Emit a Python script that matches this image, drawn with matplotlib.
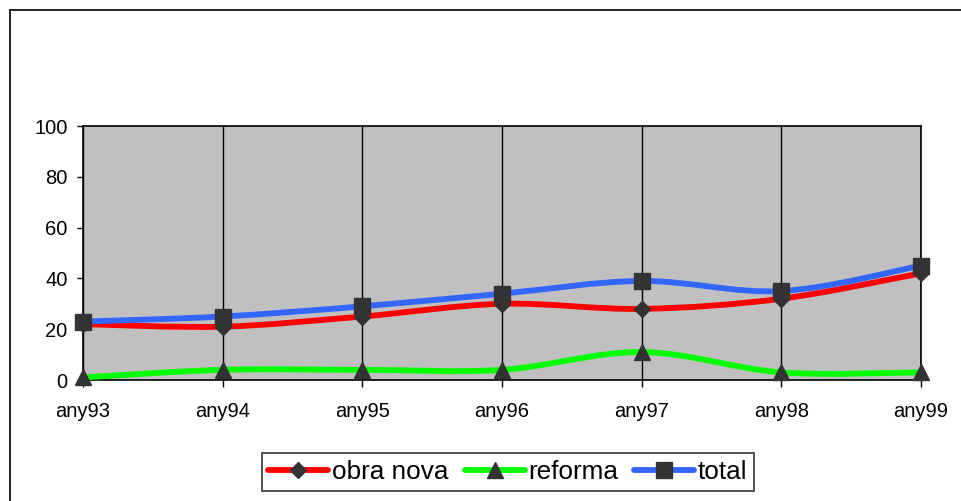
import matplotlib
matplotlib.use("Agg")
import matplotlib.pyplot as plt
from matplotlib.path import Path
from matplotlib.patches import PathPatch
from matplotlib.lines import Line2D
import numpy as np

categories = ["any93", "any94", "any95", "any96", "any97", "any98", "any99"]
obra_nova = [22, 21, 25, 30, 28, 32, 42]
reforma = [1, 4, 4, 4, 11, 3, 3]
total = [23, 25, 29, 34, 39, 35, 45]
y_ticks = [0, 20, 40, 60, 80, 100]

plt.rcParams['font.family'] = ['Liberation Sans', 'DejaVu Sans']

W, H = 961, 501
fig = plt.figure(figsize=(W / 100, H / 100), dpi=100)
fig.patch.set_facecolor("white")
ax = fig.add_axes([83 / W, 1 - 380 / H, (921 - 83) / W, (380 - 126) / H])
ax.set_facecolor("#C0C0C0")

x = np.arange(len(categories))


def smooth_path(xs, ys):
    pts = np.column_stack([xs, ys]).astype(float)
    n = len(pts)
    verts = [pts[0]]
    codes = [Path.MOVETO]
    for i in range(n - 1):
        p0 = pts[i - 1] if i > 0 else pts[i]
        p1 = pts[i]
        p2 = pts[i + 1]
        p3 = pts[i + 2] if i + 2 < n else pts[i + 1]
        c1 = p1 + (p2 - p0) / 6.0
        c2 = p2 - (p3 - p1) / 6.0
        verts += [c1, c2, p2]
        codes += [Path.CURVE4] * 3
    return Path(verts, codes)


series = [
    ("obra nova", obra_nova, "#FF0000", "D", 8),
    ("reforma", reforma, "#00FF00", "^", 11),
    ("total", total, "#3366FF", "s", 12),
]

handles = []
for z, (name, vals, col, mk, ms) in enumerate(series):
    patch = PathPatch(smooth_path(x, vals), facecolor="none", edgecolor=col,
                      lw=4.2, zorder=3 + z * 2, capstyle="round", joinstyle="round")
    ax.add_patch(patch)
    ax.plot(x, vals, linestyle="none", marker=mk, markersize=ms,
            color="#333333", zorder=4 + z * 2, clip_on=False)
    handles.append(Line2D([0], [0], color=col, lw=4.2, marker=mk,
                          markersize=ms, markerfacecolor="#333333",
                          markeredgecolor="#333333", solid_capstyle="round"))

ax.set_xlim(0, len(categories) - 1)
ax.set_ylim(0, 100)
ax.set_xticks(x)
ax.set_xticklabels(categories)
ax.set_yticks(y_ticks)
ax.xaxis.grid(True, color="black", lw=1)
ax.set_axisbelow(True)
for s in ax.spines.values():
    s.set_color("black")
    s.set_linewidth(1.2)
ax.tick_params(axis="x", direction="out", length=5, width=1, pad=11,
               labelsize=14.5, colors="black")
ax.tick_params(axis="y", direction="out", length=4, width=1, pad=7,
               labelsize=14.5, colors="black")

leg = fig.legend(handles, [s[0] for s in series], loc="center",
                 bbox_to_anchor=(508 / W, 1 - 472 / H), ncol=3,
                 frameon=True, fancybox=False, edgecolor="black",
                 fontsize=18.8, handlelength=2.3, handletextpad=0.15,
                 columnspacing=0.6, borderpad=0.25, borderaxespad=0)
leg.get_frame().set_linewidth(1.2)

# outer chart border
fig.add_artist(Line2D([9.5 / W, 9.5 / W], [1 - 9.5 / H, -0.05],
                      transform=fig.transFigure, color="black", lw=1.2))
fig.add_artist(Line2D([9.5 / W, 1.05], [1 - 9.5 / H, 1 - 9.5 / H],
                      transform=fig.transFigure, color="black", lw=1.2))

fig.savefig("out.png", dpi=100)
